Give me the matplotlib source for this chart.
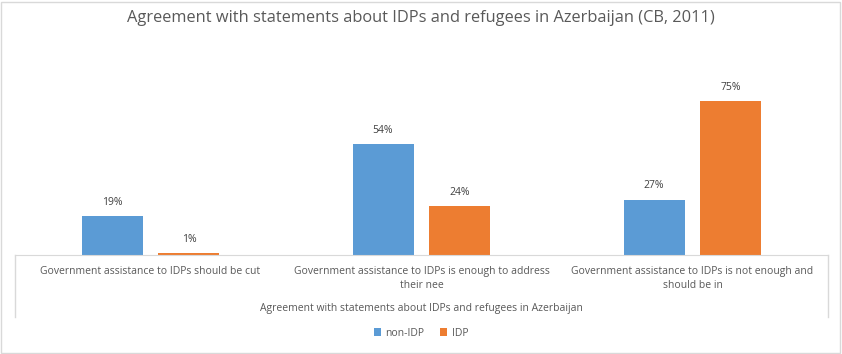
import numpy as np
import matplotlib
matplotlib.use("Agg")
import matplotlib.pyplot as plt
from matplotlib.lines import Line2D
from matplotlib.patches import Rectangle

plt.rcParams['font.family'] = ['Open Sans', 'DejaVu Sans']

categories = ["Government assistance to IDPs should be cut",
              "Government assistance to IDPs is enough to address\ntheir nee",
              "Government assistance to IDPs is not enough and\nshould be in"]
non_idp = [19, 54, 27]
idp = [1, 24, 75]
series_names = ["non-IDP", "IDP"]

title = "Agreement with statements about IDPs and refugees in Azerbaijan (CB, 2011)"
axis_title = "Agreement with statements about IDPs and refugees in Azerbaijan"

W, H = 842, 354
fig = plt.figure(figsize=(W / 100, H / 100), dpi=100)
grey = "#D9D9D9"
txt = "#595959"

# outer chart border
fig.add_artist(Rectangle((1 / W, 1 / H), (W - 3) / W, (H - 3) / H, transform=fig.transFigure,
                         fill=False, edgecolor=grey, linewidth=1))

left, right, base, top = 15, 828, 255, 40
ax = fig.add_axes([left / W, (H - base) / H, (right - left) / W, (base - top) / H])

x = np.arange(len(categories))
w = 0.225
off = 0.142
b1 = ax.bar(x - off, non_idp, w, color="#5B9BD5", label=series_names[0])
b2 = ax.bar(x + off, idp, w, color="#ED7D31", label=series_names[1])
for bars in (b1, b2):
    ax.bar_label(bars, labels=[f"{v}%" for v in bars.datavalues], padding=6,
                 fontsize=7.5, color="#404040")

ax.set_xlim(-0.5, 2.5)
ax.set_ylim(0, 105)
ax.set_yticks([])
ax.set_xticks(x)
ax.set_xticklabels(categories, fontsize=7.5, color=txt, linespacing=1.3)
ax.tick_params(axis="x", length=0, pad=8)
for s in ["top", "right", "left"]:
    ax.spines[s].set_visible(False)
ax.spines["bottom"].set_color(grey)

# category box side lines
box_bottom = 317
for xx in (left, right):
    fig.add_artist(Line2D([xx / W, xx / W], [(H - base) / H, (H - box_bottom) / H],
                          transform=fig.transFigure, color=grey, linewidth=1))

fig.text(0.5, 1 - 18 / H, title, ha="center", va="center", fontsize=11.8, color=txt)
fig.text((left + right) / 2 / W, 1 - 308 / H, axis_title, ha="center", va="center",
         fontsize=7.5, color=txt)

fig.legend(handles=[b1, b2], labels=series_names, loc="center",
           bbox_to_anchor=(0.5, 1 - 333 / H), ncol=2, frameon=False, fontsize=7.5,
           handlelength=0.7, handleheight=0.7, handletextpad=0.4, columnspacing=1.5,
           labelcolor=txt)

fig.savefig("out.png", dpi=100)
